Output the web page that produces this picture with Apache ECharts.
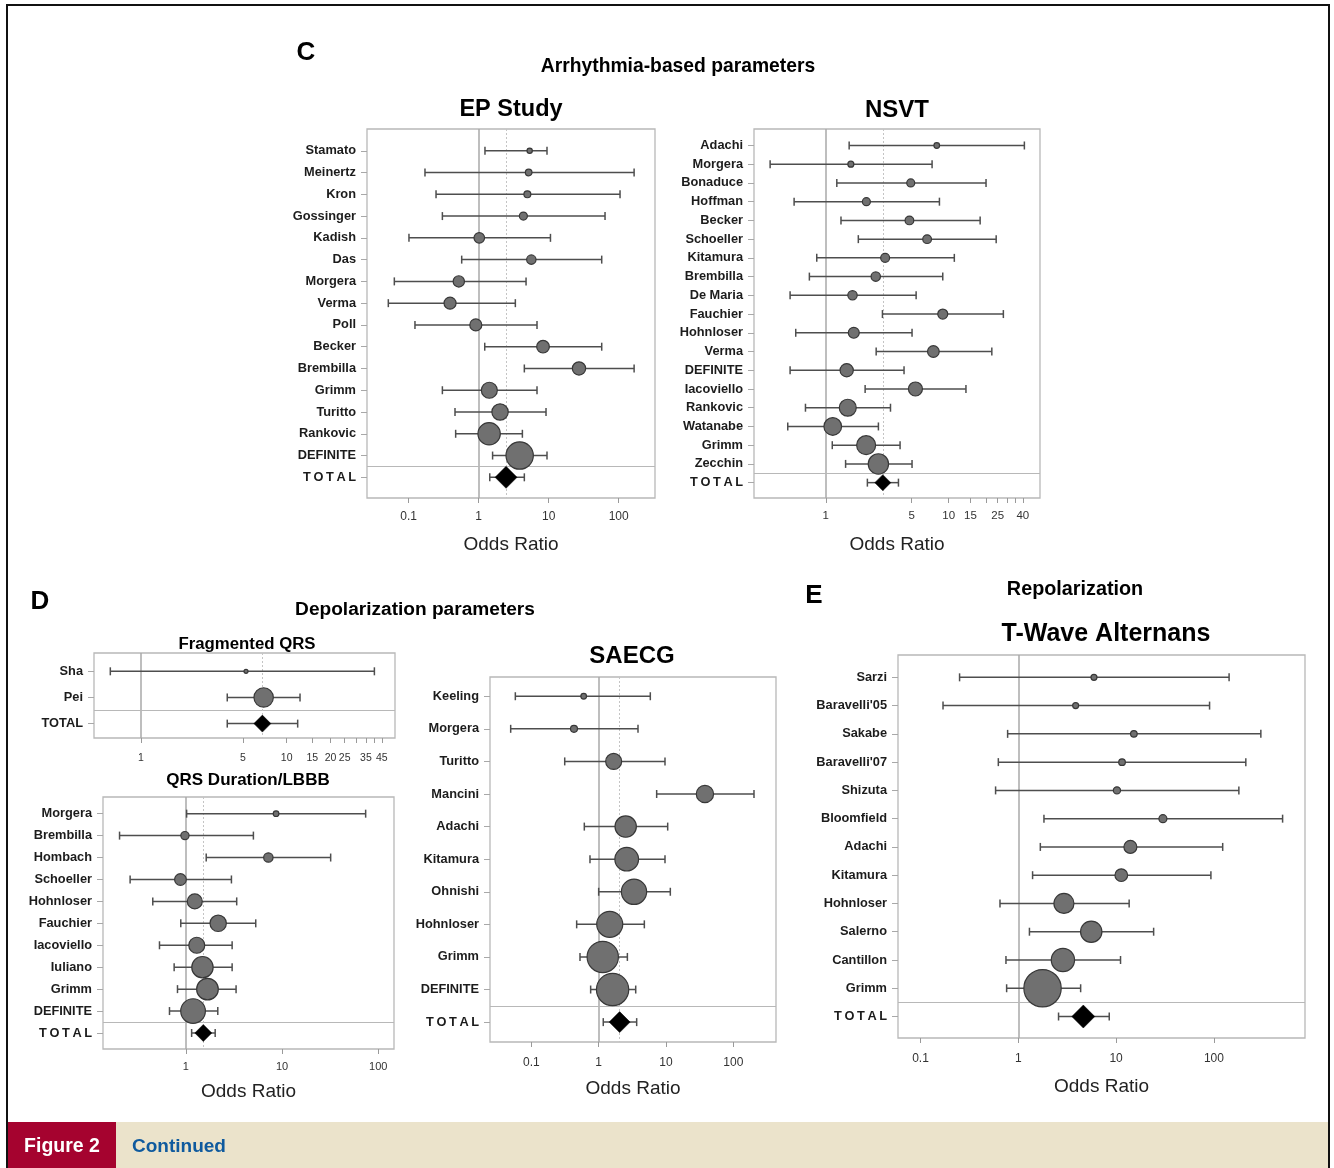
<!DOCTYPE html>
<html><head><meta charset="utf-8">
<script src="https://cdn.jsdelivr.net/npm/echarts@6/dist/echarts.min.js"></script>
<style>html,body{margin:0;padding:0;background:#fff}#c{width:1334px;height:1168px}</style>
</head><body><div id="c"></div>
<script>
// ---------- DATA ----------
// C: EP Study
const epNames = ['Stamato','Meinertz','Kron','Gossinger','Kadish','Das','Morgera','Verma','Poll','Becker','Brembilla','Grimm','Turitto','Rankovic','DEFINITE','TOTAL'];
const epOR  = [5.35,5.18,4.96,4.35,1.02,5.65,0.52,0.39,0.91,8.3,27.1,1.42,2.02,1.41,3.85,2.46];
const epLo  = [1.23,0.171,0.246,0.303,0.101,0.572,0.0624,0.0512,0.123,1.22,4.49,0.303,0.459,0.469,1.58,1.44];
const epHi  = [9.46,166,104.5,63.8,10.6,57.2,4.75,3.34,6.81,57.2,166,6.81,9.16,4.21,9.46,4.49];
const epWeight = [7,11,12,16,28,22,32,36,36,40,44,64,67,125,187,0];

// C: NSVT
const nsvtNames = ['Adachi','Morgera','Bonaduce','Hoffman','Becker','Schoeller','Kitamura','Brembilla','De Maria','Fauchier','Hohnloser','Verma','DEFINITE','Iacoviello','Rankovic','Watanabe','Grimm','Zecchin','TOTAL'];
const nsvtOR = [7.99,1.60,4.91,2.14,4.79,6.67,3.04,2.55,1.65,8.94,1.69,7.50,1.48,5.36,1.51,1.14,2.13,2.68,2.91];
const nsvtLo = [1.55,0.353,1.23,0.553,1.33,1.84,0.845,0.736,0.513,2.89,0.570,2.57,0.513,2.09,0.684,0.491,1.13,1.45,2.18];
const nsvtHi = [41.2,7.32,20.1,8.40,18.0,24.3,11.1,8.94,5.43,27.8,5.03,22.4,4.33,13.8,3.36,2.68,4.02,5.03,3.90];
const nsvtWeight = [8,9,16,16,19,19,20,22,22,25,30,34,44,49,72,78,90,103,0];

// D: Fragmented QRS
const fqrsNames = ['Sha','Pei','TOTAL'];
const fqrsOR = [5.26,6.95,6.81];
const fqrsLo = [0.616,3.91,3.91];
const fqrsHi = [40,12.35,11.9];
const fqrsWeight = [4,94,0];

// D: QRS Duration/LBBB
const qrsNames = ['Morgera','Brembilla','Hombach','Schoeller','Hohnloser','Fauchier','Iacoviello','Iuliano','Grimm','DEFINITE','TOTAL'];
const qrsOR = [8.67,0.98,7.21,0.88,1.24,2.17,1.30,1.49,1.68,1.19,1.52];
const qrsLo = [1.02,0.205,1.63,0.264,0.454,0.887,0.533,0.757,0.82,0.677,1.15];
const qrsHi = [73.9,5.04,32.0,2.98,3.38,5.33,3.03,3.03,3.33,2.15,2.02];
const qrsWeight = [8,17,22,34,56,67,64,114,117,152,0];

// D: SAECG
const saecgNames = ['Keeling','Morgera','Turitto','Mancini','Adachi','Kitamura','Ohnishi','Hohnloser','Grimm','DEFINITE','TOTAL'];
const saecgOR = [0.599,0.430,1.67,37.9,2.52,2.61,3.35,1.46,1.15,1.61,2.05];
const saecgLo = [0.0578,0.0493,0.313,7.27,0.612,0.743,1.0,0.471,0.528,0.760,1.17];
const saecgHi = [5.85,3.84,9.67,203,10.6,9.67,11.6,4.77,2.67,3.55,3.67];
const saecgWeight = [8,12,64,75,114,140,160,169,245,261,0];

// E: T-Wave Alternans
const twaNames = ['Sarzi',"Baravelli'05",'Sakabe',"Baravelli'07",'Shizuta','Bloomfield','Adachi','Kitamura','Hohnloser','Salerno','Cantillon','Grimm','TOTAL'];
const twaOR = [5.94,3.86,15.2,11.5,10.2,30.1,14.0,11.3,2.93,5.57,2.86,1.77,4.62];
const twaLo = [0.251,0.170,0.778,0.625,0.586,1.83,1.68,1.40,0.650,1.30,0.748,0.760,2.58];
const twaHi = [143,90.3,302,212,180,504,123,93.2,13.6,24.2,11.1,4.34,8.51];
const twaWeight = [9,9,11,11,13,16,42,40,100,114,136,349,0];

// tick values / labels
const ticksDecades = [0.1,1,10,100];
const ticksQrs = [1,10,100];
const ticksNsvt = [1,5,10,15,20,25,30,35,40];
const labelsNsvt = [1,5,10,15,25,40];
const ticksFqrs = [1,5,10,15,20,25,30,35,40,45];
const labelsFqrs = [1,5,10,15,20,25,35,45];

// ---------- LAYOUT ----------
const FONT = '"Liberation Sans", Arial, Helvetica, sans-serif';
const SPACED_TOTAL = 'T\u2009O\u2009T\u2009A\u2009L';

const panels = [
  {names:epNames, or:epOR, lo:epLo, hi:epHi, w:epWeight, box:[367,129,288,369], x:[0.0254,330], ticks:ticksDecades, labels:ticksDecades, pad:[1.0,0.95], dia:11, pooled:true, spaced:true, tickFont:12, labelMargin:13, nameGap:37},
  {names:nsvtNames, or:nsvtOR, lo:nsvtLo, hi:nsvtHi, w:nsvtWeight, box:[754,129,286,369], x:[0.261,55.2], ticks:ticksNsvt, labels:labelsNsvt, pad:[0.88,0.82], dia:8, pooled:true, spaced:true, tickFont:11.5, labelMargin:12, nameGap:37},
  {names:fqrsNames, or:fqrsOR, lo:fqrsLo, hi:fqrsHi, w:fqrsWeight, box:[94,653,301,85], x:[0.476,55.4], ticks:ticksFqrs, labels:labelsFqrs, pad:[0.7,0.55], dia:8.5, pooled:true, spaced:false, tickFont:10.5, labelMargin:15, nameGap:0, noName:true},
  {names:qrsNames, or:qrsOR, lo:qrsLo, hi:qrsHi, w:qrsWeight, box:[103,797,291,252], x:[0.138,145.6], ticks:ticksQrs, labels:ticksQrs, pad:[0.76,0.73], dia:8.5, pooled:true, spaced:true, tickFont:11, labelMargin:12, nameGap:33},
  {names:saecgNames, or:saecgOR, lo:saecgLo, hi:saecgHi, w:saecgWeight, box:[490,677,286,365], x:[0.0243,431], ticks:ticksDecades, labels:ticksDecades, pad:[0.59,0.61], dia:10.5, pooled:true, spaced:true, tickFont:12, labelMargin:15, nameGap:37},
  {names:twaNames, or:twaOR, lo:twaLo, hi:twaHi, w:twaWeight, box:[898,655,407,383], x:[0.0589,854], ticks:ticksDecades, labels:ticksDecades, pad:[0.79,0.76], dia:11.5, pooled:false, spaced:true, tickFont:12, labelMargin:15, nameGap:39}
];

function makeRender(p){
  return function(params, api){
    const y = api.value(3);
    const c = api.coord([api.value(0), y]);
    const a = api.coord([api.value(1), y]);
    const b = api.coord([api.value(2), y]);
    const ls = {stroke:'#4e4e4e', lineWidth:1.5, fill:null};
    const children = [
      {type:'line', shape:{x1:a[0], y1:c[1], x2:b[0], y2:c[1]}, style:ls},
      {type:'line', shape:{x1:a[0], y1:c[1]-4, x2:a[0], y2:c[1]+4}, style:ls},
      {type:'line', shape:{x1:b[0], y1:c[1]-4, x2:b[0], y2:c[1]+4}, style:ls}
    ];
    if (api.value(5)) {
      const d = p.dia;
      children.push({type:'polygon', shape:{points:[[c[0]-d,c[1]],[c[0],c[1]-d],[c[0]+d,c[1]],[c[0],c[1]+d]]}, style:{fill:'#000', stroke:'#000', lineWidth:0.5}});
    } else {
      children.push({type:'circle', shape:{cx:c[0], cy:c[1], r:Math.sqrt(api.value(4))}, style:{fill:'#707070', stroke:'#383838', lineWidth:1.2}});
    }
    return {type:'group', children};
  };
}

const grids = [], xAxes = [], yAxes = [], series = [];
panels.forEach((p, i) => {
  const n = p.names.length;
  const idx = p.names.map((_, k) => k + 1);
  grids.push({left:p.box[0], top:p.box[1], width:p.box[2], height:p.box[3], show:true,
    borderColor:'#b8b8b8', borderWidth:1.3, backgroundColor:'rgba(0,0,0,0)', containLabel:false, outerBoundsMode:'none'});
  xAxes.push({type:'log', logBase:10, gridIndex:i, position:'bottom', min:p.x[0], max:p.x[1],
    axisLine:{show:false, onZero:false}, splitLine:{show:false}, minorTick:{show:false},
    axisTick:{show:true, length:5, lineStyle:{color:'#9a9a9a', width:1}, customValues:p.ticks},
    axisLabel:{customValues:p.labels, formatter:v => String(+v.toPrecision(6)), fontFamily:FONT, fontSize:p.tickFont, color:'#333', margin:p.labelMargin},
    name:p.noName ? '' : 'Odds Ratio', nameLocation:'middle', nameGap:p.nameGap,
    nameTextStyle:{fontFamily:FONT, fontSize:19, color:'#222'}});
  yAxes.push({type:'value', gridIndex:i, inverse:true, position:'left', min:1 - p.pad[0], max:n + p.pad[1],
    axisLine:{show:false, onZero:false}, splitLine:{show:false},
    axisTick:{show:true, length:6, lineStyle:{color:'#a8a8a8', width:1}, customValues:idx},
    axisLabel:{customValues:idx, formatter:v => {
      const name = p.names[Math.round(v) - 1] || '';
      return (name === 'TOTAL' && p.spaced) ? SPACED_TOTAL : name;
    }, fontFamily:FONT, fontWeight:'bold', fontSize:12.8, color:'#1c1c1c', margin:11}});
  const refLines = [
    {xAxis:1, lineStyle:{color:'#a9a9a9', width:1.5, type:'solid'}},
    {yAxis:n - 0.5, lineStyle:{color:'#b8b8b8', width:1.2, type:'solid'}}
  ];
  if (p.pooled) refLines.push({xAxis:p.or[n-1], lineStyle:{color:'#c4c4c4', width:1, type:[2,2]}});
  series.push({type:'line', xAxisIndex:i, yAxisIndex:i, data:[], z:1, silent:true,
    markLine:{silent:true, z:1, symbol:['none','none'], label:{show:false}, animation:false, data:refLines}});
  series.push({type:'custom', xAxisIndex:i, yAxisIndex:i, coordinateSystem:'cartesian2d', z:6, silent:true,
    data:p.names.map((nm, k) => [p.or[k], p.lo[k], p.hi[k], k + 1, p.w[k], k === n - 1 ? 1 : 0]),
    encode:{x:[0,1,2], y:3}, renderItem:makeRender(p), clip:false});
});

function txt(text, x, y, size, opts){
  opts = opts || {};
  return {type:'text', x:x, y:y, silent:true, z:10, style:{text:text, font:(opts.weight||'bold') + ' ' + size + 'px ' + FONT,
    fill:opts.color||'#000', textAlign:opts.align||'center', align:opts.align||'center', textVerticalAlign:'middle', verticalAlign:'middle'}};
}

const graphics = [
  {type:'rect', shape:{x:8, y:1122, width:1321, height:50}, style:{fill:'#ebe3cb'}, z:1, silent:true},
  {type:'rect', shape:{x:8, y:1122, width:108, height:50}, style:{fill:'#a5032f'}, z:2, silent:true},
  {type:'rect', shape:{x:7, y:5, width:1322, height:1175}, style:{fill:null, stroke:'#111', lineWidth:2}, z:5, silent:true},
  txt('Figure 2', 62, 1147, 19.5, {color:'#fff'}),
  txt('Continued', 132, 1147, 19, {color:'#0f5a9e', align:'left'}),
  txt('C', 306, 53, 26),
  txt('Arrhythmia-based parameters', 678, 67, 19.3),
  txt('EP Study', 511, 110, 23.5),
  txt('NSVT', 897, 110, 24),
  txt('D', 40, 602, 26),
  txt('Depolarization parameters', 415, 610, 19.1),
  txt('Fragmented QRS', 247, 644, 16.8),
  txt('QRS Duration/LBBB', 248, 780, 17),
  txt('SAECG', 632, 656, 24),
  txt('E', 814, 596, 26),
  txt('Repolarization', 1075, 590, 19.8),
  txt('T-Wave Alternans', 1106, 634, 25)
];

const chart = echarts.init(document.getElementById('c'), null, {renderer:'canvas'});
chart.setOption({
  animation:false,
  backgroundColor:'#fff',
  grid:grids, xAxis:xAxes, yAxis:yAxes, series:series,
  graphic:{elements:graphics}
});
</script>
</body></html>
